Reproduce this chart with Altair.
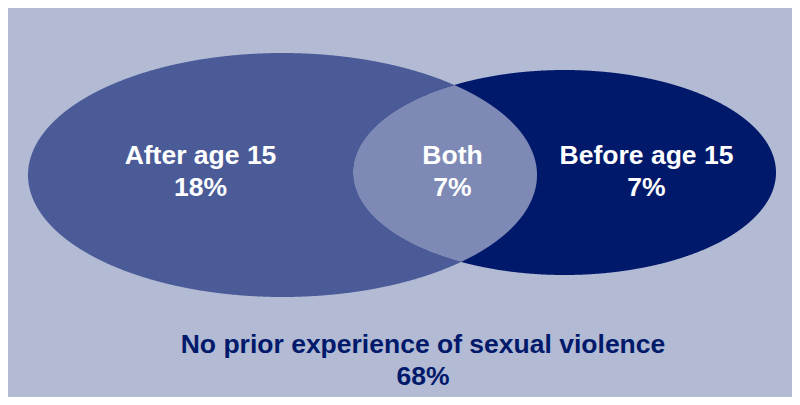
import numpy as np
import pandas as pd
import altair as alt

# ---- data ----
region_labels = ["After age 15", "Both", "Before age 15"]
region_pcts = [18, 7, 7]
outside_label = "No prior experience of sexual violence"
outside_pct = 68

# ---- layout (page pixel coordinates) ----
X0, Y0 = 8, 8
W, H = 784, 389
BG = "#b2bad4"
LEFT_COLOR = "#4a5b98"
RIGHT_COLOR = "#00196b"
LENS_COLOR = "#7e8ab5"
OUT_TEXT_COLOR = "#00196b"

left_ell = dict(cx=282.5, cy=175.0, rx=254.5, ry=122.0)
right_ell = dict(cx=564.5, cy=172.5, rx=211.5, ry=102.5)

region_pos = [(200.5, 163.5, 196.0), (452.5, 163.5, 196.0), (646.5, 163.5, 196.0)]
outside_pos = (423.0, 353.0, 385.0)

t = np.linspace(0, np.pi, 900)


def ellipse_df(e):
    x = e["cx"] - e["rx"] * np.cos(t)
    half = e["ry"] * np.sin(t)
    return pd.DataFrame({"x": x, "y": e["cy"] - half, "y2": e["cy"] + half})


def half_h(e, x):
    return e["ry"] * np.sqrt(np.clip(1 - ((x - e["cx"]) / e["rx"]) ** 2, 0, None))


xl = right_ell["cx"] - right_ell["rx"]
xr = left_ell["cx"] + left_ell["rx"]
lx = (xl + xr) / 2 - (xr - xl) / 2 * np.cos(t)
hl = half_h(left_ell, lx)
hr = half_h(right_ell, lx)
lens_df = pd.DataFrame({
    "x": lx,
    "y": np.maximum(left_ell["cy"] - hl, right_ell["cy"] - hr),
    "y2": np.minimum(left_ell["cy"] + hl, right_ell["cy"] + hr),
})

xs = alt.Scale(domain=[X0, X0 + W], nice=False, zero=False)
ys = alt.Scale(domain=[Y0, Y0 + H], nice=False, zero=False, reverse=True)


def area_layer(df, color):
    return alt.Chart(df).mark_area(orient="vertical", color=color, opacity=1).encode(
        x=alt.X("x:Q", scale=xs, axis=None),
        y=alt.Y("y:Q", scale=ys, axis=None),
        y2="y2:Q",
    )


rows = []
for lab, pct, (px, py1, py2) in zip(region_labels, region_pcts, region_pos):
    rows.append({"x": px, "y": py1, "text": lab, "kind": "in"})
    rows.append({"x": px, "y": py2, "text": f"{pct}%", "kind": "in"})
rows.append({"x": outside_pos[0], "y": outside_pos[1], "text": outside_label, "kind": "out"})
rows.append({"x": outside_pos[0], "y": outside_pos[2], "text": f"{outside_pct}%", "kind": "out"})
text_df = pd.DataFrame(rows)

text_layer = alt.Chart(text_df).mark_text(
    font="Liberation Sans", fontWeight="bold", fontSize=26.5,
    align="center", baseline="alphabetic",
).encode(
    x=alt.X("x:Q", scale=xs, axis=None),
    y=alt.Y("y:Q", scale=ys, axis=None),
    text="text:N",
    color=alt.Color("kind:N", scale=alt.Scale(domain=["in", "out"], range=["#ffffff", OUT_TEXT_COLOR]), legend=None),
)

chart = alt.layer(
    area_layer(ellipse_df(left_ell), LEFT_COLOR),
    area_layer(ellipse_df(right_ell), RIGHT_COLOR),
    area_layer(lens_df, LENS_COLOR),
    text_layer,
).properties(
    width=W, height=H, padding=0, autosize=alt.AutoSizeParams(type="none"), background=BG,
).configure_view(strokeWidth=0)

chart.save("out.html", embed_options={"renderer": "svg", "actions": False})
